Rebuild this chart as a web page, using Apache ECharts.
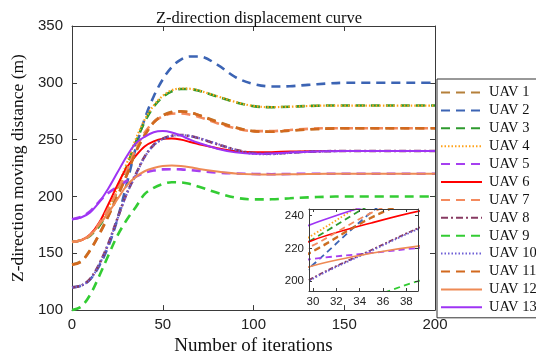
<!DOCTYPE html>
<html>
<head>
<meta charset="utf-8">
<script src="https://cdn.jsdelivr.net/npm/echarts@6/dist/echarts.min.js"></script>
<style>
  html, body { margin: 0; padding: 0; background: #fff; overflow: hidden; }
  #chart { width: 536px; height: 361px; }
</style>
</head>
<body>
<div id="chart"></div>
<script>
// Iteration steps at which each UAV's height is sampled
const iterations = [0, 5, 10, 15, 20, 25, 30, 35, 40, 45, 50, 55, 60, 65, 70,
                    80, 90, 100, 110, 120, 130, 140, 150, 160, 170, 180, 190, 200];

// Z-direction distance (m) of each UAV
const uav1  = [140, 143, 153, 167, 183, 200.5, 218.5, 239, 254, 265.5, 271.5, 274.5, 275, 274, 271.5,
               266, 260.8, 257.5, 257, 258, 259, 259.7, 260, 260, 260, 260, 260, 260];
const uav2  = [120, 121.5, 127, 139, 156, 180, 210, 242, 268, 288, 303, 314, 320.5, 323.2, 323.2,
               316, 305, 299, 296.8, 297, 298.2, 299.3, 300, 300, 300, 300, 300, 300];
const uav3  = [160, 161.5, 165.5, 174, 187.5, 205, 225.6, 247, 265.5, 279, 287.5, 292.5, 294.5, 294.5, 293,
               288, 283, 279.5, 278.5, 279, 279.6, 280, 280, 280, 280, 280, 280, 280];
const uav4  = [160, 161.5, 166, 175.5, 190, 207.5, 228.3, 250, 267.5, 280, 288.5, 293.5, 295, 294.8, 293.2,
               288.2, 283.2, 279.6, 278.6, 279, 279.6, 280, 280, 280, 280, 280, 280, 280];
const uav5  = [180, 182, 187, 195.5, 203, 208.5, 213.6, 217.2, 220.8, 222.8, 223.8, 224, 223.8, 223.2, 222.5,
               221, 220.2, 219.8, 219.6, 219.8, 220, 220, 220, 220, 220, 220, 220, 220];
const uav6  = [160, 161.5, 166.5, 177, 193, 210, 225, 235.5, 244, 248.5, 250.7, 251, 250, 248, 246,
               242.5, 239.8, 238.8, 239, 239.5, 239.8, 240, 240, 240, 240, 240, 240, 240];
const uav7  = [160, 161.5, 166, 176, 189, 205, 221.8, 241.6, 256, 265.5, 270.5, 272.8, 273, 272, 270,
               264.5, 260, 257.5, 257.5, 258.5, 259.5, 260, 260, 260, 260, 260, 260, 260];
const uav8  = [120, 121.5, 127.5, 140.5, 158.5, 180.5, 202, 219, 235, 245.3, 250.8, 253.5, 254.1, 253.2, 251.2,
               246, 241.2, 238.2, 237.7, 238.5, 239.4, 239.8, 240, 240, 240, 240, 240, 240];
const uav9  = [100, 103, 113.5, 130, 148, 165.5, 179, 190.3, 202, 207.5, 211, 212.5, 212.4, 211, 208.5,
               203.3, 199, 197.4, 197.5, 198.4, 199.2, 199.7, 200, 200, 200, 200, 200, 200];
const uav10 = [120, 121.5, 127, 140, 158, 180, 201.5, 218.5, 234.5, 245, 250.5, 253.3, 254, 253.2, 251.3,
               246.3, 241, 237.6, 237.2, 238.3, 239.3, 239.8, 240, 240, 240, 240, 240, 240];
const uav11 = [140, 142.5, 152.5, 166.5, 182.5, 200, 218, 238.5, 253.5, 265, 271, 274, 274.7, 274, 271.5,
               265.5, 260.5, 257.5, 257, 258, 259, 259.7, 260, 260, 260, 260, 260, 260];
const uav12 = [160, 161.5, 166, 175, 185.5, 197.5, 209.4, 217, 222.2, 225, 226.8, 227.3, 226.9, 225.8, 224.2,
               222, 220.3, 219.5, 219.3, 219.5, 219.8, 220, 220, 220, 220, 220, 220, 220];
const uav13 = [180, 181.5, 186, 195, 207, 221, 235, 246.5, 252.5, 256.5, 257.5, 256.3, 253.5, 250, 247,
               242, 238.8, 237.5, 237.8, 238.7, 239.4, 239.8, 240, 240, 240, 240, 240, 240];

const seriesNames = ['UAV 1', 'UAV 2', 'UAV 3', 'UAV 4', 'UAV 5', 'UAV 6', 'UAV 7',
                     'UAV 8', 'UAV 9', 'UAV 10', 'UAV 11', 'UAV 12', 'UAV 13'];
const seriesValues = [uav1, uav2, uav3, uav4, uav5, uav6, uav7, uav8, uav9, uav10, uav11, uav12, uav13];

// Axis ticks
const mainXTicks = [0, 50, 100, 150, 200];
const mainYTicks = [100, 150, 200, 250, 300, 350];
const zoomXTicks = [30, 32, 34, 36, 38];
const zoomYTicks = [200, 220, 240];

// Line styles per UAV
const lineColors = ['#B5803A', '#3C64B4', '#2E9A2E', '#FFA21A', '#A63FF0', '#FF0000', '#F48A5E',
                    '#873A62', '#33CC33', '#6E5FD6', '#D2691E', '#EE8A55', '#9E34F4'];
const lineDash = ['dash', 'dash', 'dash', 'dot', 'dash', 'solid', 'dash',
                  'dashdot', 'dash', 'dot', 'dash', 'solid', 'solid'];

function dashPattern(kind, scale) {
  if (kind === 'dash') return [9 * scale, 6 * scale];
  if (kind === 'dot') return [1.5, 2];
  if (kind === 'dashdot') return [7 * scale, 3 * scale, 2, 3 * scale];
  return 'solid';
}

const serif = 'Liberation Serif';
const sans = 'Liberation Sans';
const axisColor = '#3a3a3a';

const series = [];
seriesNames.forEach((name, i) => {
  const pts = iterations.map((t, k) => [t, seriesValues[i][k]]);
  const kind = lineDash[i];
  // full-range curve
  series.push({
    type: 'line', name: name, data: pts,
    xAxisIndex: 0, yAxisIndex: 0,
    symbol: 'none', smooth: 0.35, z: 2,
    lineStyle: {
      color: lineColors[i],
      width: kind === 'solid' ? 2 : (kind === 'dot' ? 2.2 : 2.6),
      type: dashPattern(kind, 1)
    },
    itemStyle: { color: lineColors[i] },
    emphasis: { disabled: true }
  });
  // magnified view of iterations 30–39
  series.push({
    type: 'line', name: name, data: pts,
    xAxisIndex: 2, yAxisIndex: 2,
    symbol: 'none', smooth: 0.35, z: 6, clip: true,
    lineStyle: {
      color: lineColors[i],
      width: kind === 'solid' ? 1.6 : 1.8,
      type: dashPattern(kind, 0.7)
    },
    itemStyle: { color: lineColors[i] },
    emphasis: { disabled: true }
  });
});

const mainLine = { show: true, onZero: false, lineStyle: { color: axisColor, width: 1 } };

const option = {
  animation: false,
  backgroundColor: '#fff',
  title: {
    text: 'Z-direction displacement curve',
    left: 254, top: 5, textAlign: 'center',
    textStyle: { fontFamily: serif, fontSize: 16.5, fontWeight: 'normal', color: '#111' }
  },
  legend: {
    orient: 'vertical',
    left: 437, top: 79,
    padding: [6, 40, 3, 3],
    itemWidth: 41, itemHeight: 14, itemGap: 2.9,
    borderColor: '#333', borderWidth: 1,
    backgroundColor: '#fff',
    data: seriesNames,
    itemStyle: { color: 'transparent', borderColor: 'transparent', borderWidth: 0 },
    textStyle: { fontFamily: serif, fontSize: 14.5, color: '#111', padding: [0, 0, 0, 2] }
  },
  grid: [
    { left: 72, right: 101, top: 26, bottom: 47, show: false },
    { left: 309, top: 209, width: 109, height: 82, show: true, z: 4,
      backgroundColor: '#fff', borderWidth: 0 }
  ],
  xAxis: [
    { type: 'value', gridIndex: 0, position: 'bottom', min: 0, max: 200, interval: 50,
      name: 'Number of iterations', nameLocation: 'middle', nameGap: 23,
      nameTextStyle: { fontFamily: serif, fontSize: 19, color: '#111' },
      axisLine: mainLine,
      axisTick: { inside: true, length: 5, lineStyle: { color: axisColor }, customValues: mainXTicks },
      axisLabel: { fontFamily: sans, fontSize: 15, color: '#222', margin: 7, customValues: mainXTicks },
      splitLine: { show: false } },
    { type: 'value', gridIndex: 0, position: 'top', min: 0, max: 200, interval: 50,
      axisLine: mainLine,
      axisTick: { inside: true, length: 5, lineStyle: { color: axisColor } },
      axisLabel: { show: false }, splitLine: { show: false } },
    { type: 'value', gridIndex: 1, position: 'bottom', min: 29.66, max: 39, z: 7,
      axisLine: { show: true, onZero: false, lineStyle: { color: axisColor, width: 1 } },
      axisTick: { inside: true, length: 3, lineStyle: { color: axisColor }, customValues: zoomXTicks },
      axisLabel: { fontFamily: sans, fontSize: 11.5, color: '#222', margin: 5, customValues: zoomXTicks },
      splitLine: { show: false } },
    { type: 'value', gridIndex: 1, position: 'top', min: 29.66, max: 39, z: 7,
      axisLine: { show: true, onZero: false, lineStyle: { color: axisColor, width: 1 } },
      axisTick: { inside: true, length: 3, lineStyle: { color: axisColor }, customValues: zoomXTicks },
      axisLabel: { show: false }, splitLine: { show: false } }
  ],
  yAxis: [
    { type: 'value', gridIndex: 0, position: 'left', min: 100, max: 350, interval: 50,
      name: 'Z-direction moving distance (m)', nameLocation: 'middle', nameGap: 43,
      nameTextStyle: { fontFamily: serif, fontSize: 17.5, color: '#111' },
      axisLine: mainLine,
      axisTick: { inside: true, length: 5, lineStyle: { color: axisColor }, customValues: mainYTicks },
      axisLabel: { fontFamily: sans, fontSize: 15, color: '#222', margin: 9, customValues: mainYTicks },
      splitLine: { show: false } },
    { type: 'value', gridIndex: 0, position: 'right', min: 100, max: 350, interval: 50,
      axisLine: mainLine,
      axisTick: { inside: true, length: 5, lineStyle: { color: axisColor } },
      axisLabel: { show: false }, splitLine: { show: false } },
    { type: 'value', gridIndex: 1, position: 'left', min: 194, max: 244, z: 7,
      axisLine: { show: true, onZero: false, lineStyle: { color: axisColor, width: 1 } },
      axisTick: { inside: true, length: 3, lineStyle: { color: axisColor }, customValues: zoomYTicks },
      axisLabel: { fontFamily: sans, fontSize: 11.5, color: '#222', margin: 5, customValues: zoomYTicks },
      splitLine: { show: false } },
    { type: 'value', gridIndex: 1, position: 'right', min: 194, max: 244, z: 7,
      axisLine: { show: true, onZero: false, lineStyle: { color: axisColor, width: 1 } },
      axisTick: { inside: true, length: 3, lineStyle: { color: axisColor }, customValues: zoomYTicks },
      axisLabel: { show: false }, splitLine: { show: false } }
  ],
  series: series
};

const chart = echarts.init(document.getElementById('chart'), null, { renderer: 'canvas' });
chart.setOption(option);
</script>
</body>
</html>
